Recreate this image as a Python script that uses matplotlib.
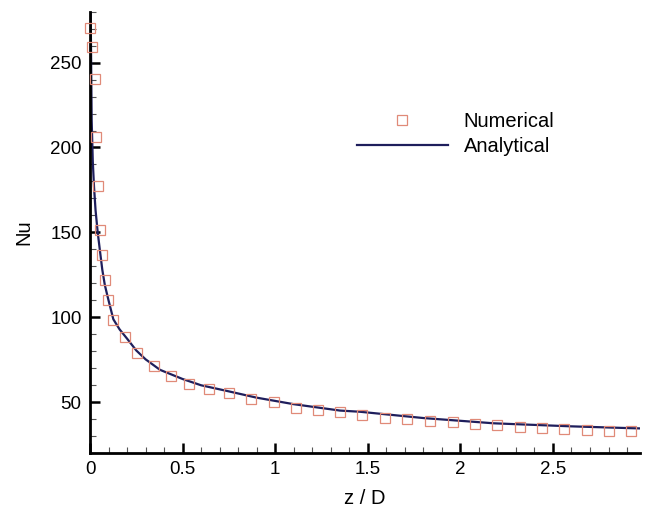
import matplotlib
matplotlib.use("Agg")
import matplotlib.pyplot as plt
from matplotlib.ticker import MultipleLocator, FuncFormatter

plt.rcParams["font.family"] = ["Liberation Sans", "DejaVu Sans"]

# numerical results (squares)
num_z = [0.002, 0.012, 0.027, 0.031, 0.042, 0.054, 0.063, 0.081, 0.099, 0.123,
         0.189, 0.256, 0.346, 0.438, 0.537, 0.645, 0.753, 0.870, 0.991, 1.110,
         1.229, 1.351, 1.470, 1.593, 1.714, 1.837, 1.959, 2.079, 2.198, 2.323,
         2.443, 2.561, 2.683, 2.804, 2.923]
num_nu = [270.4, 259.3, 240.3, 206.4, 177.1, 151.6, 136.9, 121.8, 109.9, 98.3,
          88.6, 78.8, 71.3, 65.1, 60.6, 57.6, 55.1, 51.8, 49.8, 46.7,
          45.5, 44.0, 42.6, 40.6, 40.0, 38.6, 38.2, 37.0, 36.4, 35.4,
          35.0, 34.2, 33.8, 33.0, 32.8]

# analytical curve (solid line)
ana_z = [0.002, 0.004, 0.009, 0.015, 0.0216, 0.03, 0.0416, 0.055, 0.0664, 0.08,
         0.0988, 0.126, 0.16, 0.2, 0.25, 0.3, 0.378, 0.5, 0.6, 0.738,
         0.9, 1.098, 1.35, 1.458, 1.8, 2.18, 2.6, 2.9, 3.0]
ana_nu = [300.0, 276.0, 216.0, 192.0, 177.0, 163.0, 150.0, 138.0, 128.0, 119.0,
          110.5, 98.8, 92.8, 87.4, 80.4, 75.2, 69.0, 63.6, 59.9, 56.6,
          52.6, 48.8, 45.0, 44.3, 40.6, 37.5, 35.7, 34.7, 34.4]

fig = plt.figure(figsize=(6.45, 5.08), dpi=100)
ax = fig.add_axes([90 / 645, 1 - 453 / 508, 550 / 645, 441.3 / 508])

ax.plot(num_z, num_nu, linestyle="none", marker="s", markersize=6.5,
        markerfacecolor="none", markeredgecolor="#e08a78", markeredgewidth=0.9,
        label="Numerical", clip_on=False, zorder=3)
ax.plot(ana_z, ana_nu, color="#1e1e5c", linewidth=1.6, label="Analytical",
        zorder=2)

ax.set_xlim(0, 2.97)
ax.set_ylim(20, 280)

ax.xaxis.set_major_locator(MultipleLocator(0.5))
ax.xaxis.set_minor_locator(MultipleLocator(0.1))
ax.yaxis.set_major_locator(MultipleLocator(50))
ax.yaxis.set_minor_locator(MultipleLocator(10))
ax.xaxis.set_major_formatter(FuncFormatter(lambda v, _: f"{v:g}"))
ax.yaxis.set_major_formatter(FuncFormatter(lambda v, _: f"{v:g}"))

ax.tick_params(which="major", direction="in", length=7, width=1.8,
               labelsize=13.5, pad=6)
ax.tick_params(which="minor", direction="in", length=4, width=0.8,
               color="#555555")
ax.tick_params(axis="x", which="both", top=False)
ax.tick_params(axis="y", which="both", right=False)

for side in ["top", "right"]:
    ax.spines[side].set_visible(False)
for side in ["left", "bottom"]:
    ax.spines[side].set_linewidth(2.0)

ax.set_xlabel("z / D", fontsize=14.5, labelpad=8)
ax.set_ylabel("Nu", fontsize=14.5, labelpad=12)

ax.legend(loc="upper left", bbox_to_anchor=(0.4855, 0.772), frameon=False,
          fontsize=14.5, handlelength=4.5, handletextpad=0.8, numpoints=1,
          borderpad=0, borderaxespad=0, labelspacing=0.3)

fig.savefig("out.png", dpi=100)
